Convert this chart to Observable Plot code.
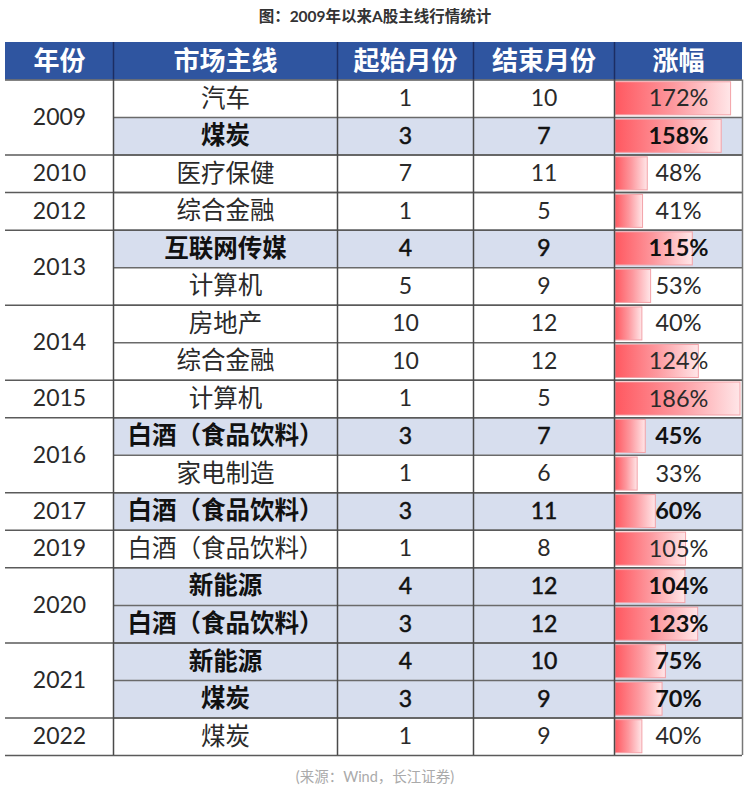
<!DOCTYPE html>
<html><head><meta charset="utf-8">
<script src="https://cdn.jsdelivr.net/npm/d3@7"></script>
<script src="https://cdn.jsdelivr.net/npm/@observablehq/plot@0.6"></script>
<style>
body{margin:0;background:#fff;width:750px;font-family:Lato,"Noto Sans CJK SC",sans-serif;}
#title{height:36px;line-height:32px;text-align:center;font-weight:bold;font-size:15.5px;color:#333;}
#foot{height:22px;line-height:22px;text-align:center;font-size:14.5px;color:#aaa;}
svg{display:block;}
</style></head><body>
<div id="title">图：2009年以来A股主线行情统计</div>
<div id="chart"></div>
<div id="foot">(来源：Wind，长江证券)</div>
<script>
const headers = ["年份","市场主线","起始月份","结束月份","涨幅"];
const years = ["2009","2009","2010","2012","2013","2013","2014","2014","2015","2016","2016","2017","2019","2020","2020","2021","2021","2022"];
const themes = ["汽车","煤炭","医疗保健","综合金融","互联网传媒","计算机","房地产","综合金融","计算机","白酒（食品饮料）","家电制造","白酒（食品饮料）","白酒（食品饮料）","新能源","白酒（食品饮料）","新能源","煤炭","煤炭"];
const startMonths = [1,3,7,1,4,5,10,10,1,3,1,3,1,4,3,4,3,1];
const endMonths = [10,7,11,5,9,9,12,12,5,7,6,11,8,12,12,10,9,9];
const gains = [172,158,48,41,115,53,40,124,186,45,33,60,105,104,123,75,70,40];
const keyRows = [1,4,9,11,13,14,15,16];

const rows = years.map((y,i)=>({i, year:y, theme:themes[i], start:startMonths[i], end:endMonths[i], gain:gains[i], key:keyRows.includes(i)}));
const groups = d3.groups(rows, d=>d.year).map(([year, rs])=>({year, first: rs[0].i, n: rs.length}));
const groupBounds = [0, ...groups.map(g=>g.first+g.n)];

// layout
const W = 750, H = 730;
const colEdges = [5,113,337,473,614,742];
const colMid = k => (colEdges[k]+colEdges[k+1])/2;
const barX0 = colEdges[4] + 1;
const barLen = d3.scaleLinear().domain([0, d3.max(gains)]).range([0, 125]);
const FONT = 'Lato, "Noto Sans CJK SC", sans-serif';

function textCol(k, get, size, semi){
  const base = {x: ()=>colMid(k), y: d=>d.i+0.5, text: get, fontSize: size, fontFamily: FONT};
  const keyStyle = semi ? {fill:"#111", stroke:"#111", strokeWidth:0.5} : {fill:"#111", fontWeight:"bold"};
  return [
    Plot.text(rows.filter(d=>!d.key), {...base, fill:"#2a2a2a"}),
    Plot.text(rows.filter(d=>d.key), {...base, ...keyStyle})
  ];
}

const plot = Plot.plot({
  width: W, height: H, margin: 0,
  x: {type:"linear", domain:[0,W], range:[0,W], axis:null},
  y: {type:"linear", domain:[-1,18], range:[6,719], axis:null},
  style: {background:"#fff", fontFamily: FONT},
  marks: [
    Plot.rect([0], {x1: ()=>colEdges[0], x2: ()=>colEdges[5], y1: ()=>-1, y2: ()=>0, fill:"#2f55a0"}),
    Plot.rect(rows.filter(d=>d.key), {x1: ()=>colEdges[1], x2: ()=>colEdges[5], y1: d=>d.i, y2: d=>d.i+1, fill:"#d7deee"}),
    Plot.rect(rows, {x1: ()=>barX0, x2: d=>barX0+barLen(d.gain), y1: d=>d.i+0.06, y2: d=>d.i+0.94, fill:"url(#barGrad)", stroke:"#f3a2a8", strokeWidth:1}),
    Plot.ruleY(d3.range(1,18), {y: d=>d, x1: ()=>colEdges[1], x2: ()=>colEdges[5], stroke:"#6a6a6a", strokeWidth:1.5}),
    Plot.ruleY(groupBounds, {y: d=>d, x1: ()=>colEdges[0], x2: ()=>colEdges[5], stroke:"#5a5a5a", strokeWidth:1.5}),
    Plot.ruleX(colEdges.slice(1,5), {x: d=>d, y1: ()=>0, y2: ()=>18, stroke:"#4a4a4a", strokeWidth:1.5}),
    Plot.ruleX([colEdges[5]], {x: d=>d, y1: ()=>0, y2: ()=>18, stroke:"#777", strokeWidth:1.5}),
    Plot.ruleX(colEdges.slice(1,5), {x: d=>d, y1: ()=>-1, y2: ()=>0, stroke:"#1c2d63", strokeWidth:1.5}),
    Plot.text(headers, {x: (d,i)=>colMid(i), y: ()=>-0.5, text: d=>d, fill:"#fff", fontWeight:"bold", fontSize:26, fontFamily: FONT}),
    Plot.text(groups, {x: ()=>colMid(0), y: g=>g.first+g.n/2, text: "year", fill:"#2a2a2a", fontSize:23, fontFamily: FONT}),
    ...textCol(1, d=>d.theme, 24.5, false),
    ...textCol(2, d=>String(d.start), 23, true),
    ...textCol(3, d=>String(d.end), 23, true),
    ...textCol(4, d=>d.gain+"%", 23.5, false)
  ]
});

const ns = "http://www.w3.org/2000/svg";
const defs = document.createElementNS(ns, "defs");
defs.innerHTML = '<linearGradient id="barGrad" x1="0" x2="1" y1="0" y2="0"><stop offset="0" stop-color="#ff5860"/><stop offset="0.5" stop-color="#fd989e"/><stop offset="1" stop-color="#ffe6e8"/></linearGradient>';
plot.insertBefore(defs, plot.firstChild);
document.getElementById("chart").appendChild(plot);
</script>
</body></html>
